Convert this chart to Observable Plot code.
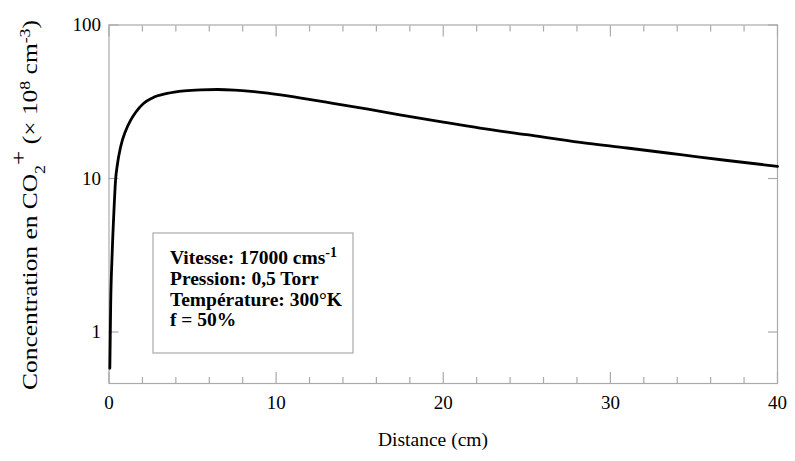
<!DOCTYPE html>
<html>
<head>
<meta charset="utf-8">
<script src="https://cdn.jsdelivr.net/npm/d3@7"></script>
<script src="https://cdn.jsdelivr.net/npm/@observablehq/plot@0.6"></script>
<style>
  html, body { margin: 0; padding: 0; background: #fff; }
  #chart { width: 795px; height: 461px; }
</style>
</head>
<body>
<div id="chart"></div>
<script>
// Distance (cm) and CO2+ concentration (x 10^8 cm^-3)
const distance = [0.05, 0.1, 0.19, 0.3, 0.39, 0.5, 0.69, 1.0, 1.29, 1.6, 2.06, 2.6, 3.48, 4.5, 5.47, 6.5, 7.5, 8.5, 9.5, 11.5, 13.4, 15.5, 17.4, 20, 22.2, 25, 28.2, 31, 34.2, 37, 40];
const concentration = [0.58, 1.5, 3.25, 6.3, 9.7, 12.3, 16, 20.5, 23.9, 27, 30.8, 33.5, 35.8, 37.2, 37.8, 38.0, 37.7, 37.0, 36.0, 33.4, 30.9, 28.3, 26, 23.3, 21.3, 19.3, 17.2, 15.8, 14.3, 13.1, 12.0];

const xMajorTicks = [0, 10, 20, 30, 40];
const xMinorTicks = [2, 4, 6, 8, 12, 14, 16, 18, 22, 24, 26, 28, 32, 34, 36, 38];
const yMajorTicks = [1, 10, 100];

const xTitle = "Distance (cm)";
const legendLines = ["Vitesse: 17000 cms", "Pression: 0,5 Torr", "Température: 300°K", "f = 50%"];

const data = distance.map((d, i) => ({distance: d, conc: concentration[i]}));

const frameColor = "#aaaaaa";
const font = "'Liberation Serif', 'Times New Roman', serif";

const plot = Plot.plot({
  width: 795,
  height: 461,
  marginLeft: 108.5,
  marginRight: 18,
  marginTop: 24.5,
  marginBottom: 78,
  style: {fontFamily: font, fontSize: "19px", background: "#fff", color: "#000"},
  x: {domain: [0, 40], label: null},
  y: {type: "log", domain: [0.462, 100], label: null},
  marks: [
    Plot.frame({stroke: frameColor, strokeWidth: 1.2}),
    // inward ticks, bottom & top
    Plot.axisX({anchor: "bottom", ticks: xMajorTicks, tickSize: -11, tickFormat: () => "", stroke: frameColor, strokeWidth: 1.2, label: null}),
    Plot.axisX({anchor: "bottom", ticks: xMinorTicks, tickSize: -6, tickFormat: () => "", stroke: frameColor, strokeWidth: 1.2, label: null}),
    Plot.axisX({anchor: "top", ticks: xMajorTicks, tickSize: -11, tickFormat: () => "", stroke: frameColor, strokeWidth: 1.2, label: null}),
    Plot.axisX({anchor: "top", ticks: xMinorTicks, tickSize: -6, tickFormat: () => "", stroke: frameColor, strokeWidth: 1.2, label: null}),
    Plot.axisY({anchor: "left", ticks: yMajorTicks, tickSize: -10, tickFormat: () => "", stroke: frameColor, strokeWidth: 1.2, label: null}),
    Plot.axisY({anchor: "right", ticks: yMajorTicks, tickSize: -10, tickFormat: () => "", stroke: frameColor, strokeWidth: 1.2, label: null}),
    // tick labels
    Plot.axisX({anchor: "bottom", ticks: xMajorTicks, tickSize: 0, tickPadding: 12, tickFormat: d => String(d), fontSize: 19, label: null}),
    Plot.axisY({anchor: "left", ticks: yMajorTicks, tickSize: 0, tickPadding: 8, tickFormat: d => String(d), fontSize: 19, label: null}),
    // curve
    Plot.line(data, {x: "distance", y: "conc", stroke: "#000", strokeWidth: 2.8, curve: "monotone-x"})
  ]
});

document.getElementById("chart").appendChild(plot);

// Annotations: axis titles and the legend box
const svg = d3.select(plot);

// x title
svg.append("text")
  .attr("x", 433).attr("y", 446)
  .attr("text-anchor", "middle")
  .attr("font-family", font).attr("font-size", 19.5)
  .attr("textLength", 110).attr("lengthAdjust", "spacingAndGlyphs")
  .attr("fill", "#000")
  .text(xTitle);

// y title with sub/superscripts
const yt = svg.append("text")
  .attr("transform", "translate(37,205) rotate(-90)")
  .attr("text-anchor", "middle")
  .attr("font-family", font).attr("font-size", 20)
  .attr("textLength", 370).attr("lengthAdjust", "spacingAndGlyphs")
  .attr("fill", "#000");
yt.append("tspan").text("Concentration en CO");
yt.append("tspan").attr("baseline-shift", "sub").attr("font-size", 14).text("2");
yt.append("tspan").attr("baseline-shift", "super").attr("font-size", 20).text("+");
yt.append("tspan").text(" (× 10");
yt.append("tspan").attr("baseline-shift", "super").attr("font-size", 14).text("8");
yt.append("tspan").text(" cm");
yt.append("tspan").attr("baseline-shift", "super").attr("font-size", 14).text("-3");
yt.append("tspan").text(")");

// legend box
const lg = svg.append("g").attr("text-anchor", "start");
lg.append("rect")
  .attr("x", 153).attr("y", 233).attr("width", 200).attr("height", 120)
  .attr("fill", "#fff").attr("stroke", frameColor).attr("stroke-width", 1.2);
const baselines = [264, 285, 306, 326];
legendLines.forEach((s, i) => {
  const t = lg.append("text")
    .attr("x", 170).attr("y", baselines[i])
    .attr("text-anchor", "start")
    .attr("font-family", font).attr("font-size", 19.5).attr("font-weight", "bold")
    .attr("fill", "#000");
  t.append("tspan").text(s);
  if (i === 0) t.append("tspan").attr("baseline-shift", "super").attr("font-size", 14).text("-1");
});
</script>
</body>
</html>
